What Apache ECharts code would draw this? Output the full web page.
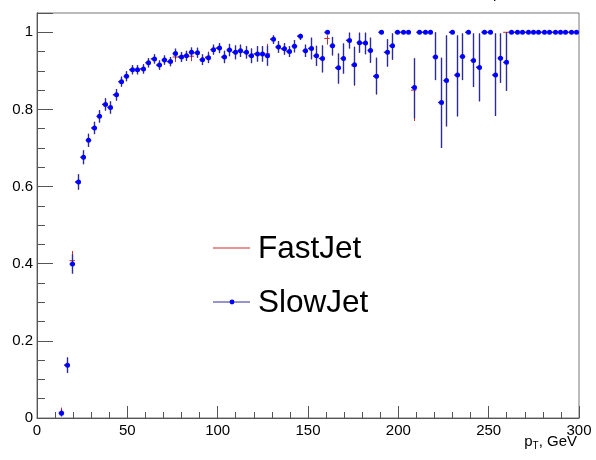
<!DOCTYPE html>
<html>
<head>
<meta charset="utf-8">
<script src="https://cdn.jsdelivr.net/npm/echarts@6/dist/echarts.min.js"></script>
<style>
html,body{margin:0;padding:0;background:#fff;}
#chart{width:596px;height:460px;}
</style>
</head>
<body>
<div id="chart"></div>
<script>
// pT bin centres (GeV), 3 GeV bins
const ptBins = [13.5,16.5,19.5,22.5,25.5,28.5,31.5,34.5,37.5,40.5,43.5,46.5,49.5,52.5,55.5,58.5,61.5,64.5,67.5,70.5,
73.5,76.5,79.5,82.5,85.5,88.5,91.5,94.5,97.5,100.5,103.5,106.5,109.5,112.5,115.5,118.5,121.5,124.5,127.5,130.5,
133.5,136.5,139.5,142.5,145.5,148.5,151.5,154.5,157.5,160.5,163.5,166.5,169.5,172.5,175.5,178.5,181.5,184.5,187.5,190.5,
193.5,196.5,199.5,202.5,205.5,208.5,211.5,214.5,217.5,220.5,223.5,226.5,229.5,232.5,235.5,238.5,241.5,244.5,247.5,250.5,
253.5,256.5,259.5,262.5,265.5,268.5,271.5,274.5,277.5,280.5,283.5,286.5,289.5,292.5,295.5,298.5];

const slowVals = [0.012,0.137,0.399,0.612,0.676,0.720,0.752,0.782,0.813,0.805,0.838,0.872,0.886,0.903,0.903,0.905,0.921,0.931,0.915,0.928,
0.924,0.945,0.936,0.939,0.948,0.947,0.929,0.934,0.955,0.959,0.936,0.954,0.948,0.952,0.948,0.939,0.944,0.944,0.939,0.982,
0.962,0.957,0.950,0.964,0.990,0.952,0.958,0.939,0.932,1.0,0.965,0.908,0.932,0.979,0.916,0.973,0.972,0.953,0.886,1.0,
0.948,0.965,1.0,1.0,1.0,0.857,1.0,1.0,1.0,0.936,0.818,0.875,1.0,0.889,0.937,1.0,0.927,0.909,1.0,1.0,
0.889,0.933,0.922,1.0,1.0,1.0,1.0,1.0,1.0,1.0,1.0,1.0,1.0,1.0,1.0,1.0];
const slowErrLo = [0.008,0.02,0.025,0.02,0.018,0.017,0.016,0.016,0.016,0.016,0.015,0.013,0.013,0.012,0.012,0.012,0.012,0.012,0.012,0.012,
0.012,0.013,0.013,0.013,0.013,0.013,0.014,0.014,0.013,0.013,0.016,0.016,0.018,0.016,0.016,0.019,0.02,0.02,0.026,0.012,
0.015,0.015,0.014,0.016,0.01,0.016,0.028,0.026,0.036,0,0.025,0.041,0.039,0.021,0.053,0.026,0.029,0.032,0.047,0,
0.037,0.036,0,0,0,0.08,0,0,0,0.06,0.118,0.119,0,0.107,0.061,0,0.069,0.088,0,0,
0.106,0.064,0.074,0,0,0,0,0,0,0,0,0,0,0,0,0];
const slowErrHi = [0.01,0.02,0.025,0.02,0.018,0.017,0.016,0.016,0.016,0.016,0.015,0.013,0.013,0.012,0.012,0.012,0.012,0.012,0.012,0.012,
0.012,0.013,0.013,0.013,0.013,0.013,0.014,0.014,0.013,0.013,0.016,0.016,0.018,0.016,0.016,0.019,0.02,0.02,0.026,0.01,
0.015,0.015,0.014,0.016,0.006,0.016,0.028,0.026,0.034,0,0.023,0.037,0.039,0.02,0.046,0.026,0.027,0.033,0.048,0,
0.034,0.032,0,0,0,0.076,0,0,0,0.064,0.116,0.117,0,0.103,0.06,0,0.07,0.088,0,0,
0.108,0.064,0.078,0,0,0,0,0,0,0,0,0,0,0,0,0];

const fastVals = [0.015,0.137,0.408,0.612,0.676,0.720,0.752,0.782,0.813,0.805,0.838,0.872,0.886,0.903,0.903,0.905,0.921,0.931,0.915,0.928,
0.924,0.936,0.936,0.939,0.938,0.947,0.929,0.936,0.955,0.959,0.936,0.954,0.948,0.952,0.948,0.939,0.944,0.944,0.944,0.982,
0.962,0.957,0.950,0.964,0.990,0.952,0.958,0.939,0.932,0.984,0.965,0.908,0.932,0.979,0.913,0.973,0.972,0.953,0.886,1.0,
0.948,0.965,1.0,1.0,1.0,0.850,1.0,1.0,1.0,0.936,0.818,0.875,1.0,0.889,0.937,1.0,0.927,0.909,1.0,1.0,
0.889,0.933,1.0,1.0,1.0,1.0,1.0,1.0,1.0,1.0,1.0,1.0,1.0,1.0,1.0,1.0];
const fastErrLo = [0.01,0.02,0.025,0.02,0.018,0.017,0.016,0.016,0.016,0.016,0.015,0.013,0.013,0.012,0.012,0.012,0.012,0.012,0.012,0.012,
0.012,0.013,0.013,0.013,0.013,0.013,0.014,0.014,0.013,0.013,0.016,0.016,0.018,0.016,0.016,0.019,0.02,0.02,0.026,0.012,
0.015,0.015,0.014,0.016,0.01,0.016,0.028,0.026,0.036,0.016,0.025,0.041,0.039,0.021,0.052,0.026,0.029,0.032,0.047,0,
0.037,0.036,0,0,0,0.08,0,0,0,0.06,0.118,0.119,0,0.107,0.061,0,0.069,0.088,0,0,
0.106,0.064,0.08,0,0,0,0,0,0,0,0,0,0,0,0,0];
const fastErrHi = [0.012,0.02,0.025,0.02,0.018,0.017,0.016,0.016,0.016,0.016,0.015,0.013,0.013,0.012,0.012,0.012,0.012,0.012,0.012,0.012,
0.012,0.013,0.013,0.013,0.013,0.013,0.014,0.014,0.013,0.013,0.016,0.016,0.018,0.016,0.016,0.019,0.02,0.02,0.026,0.01,
0.015,0.015,0.014,0.016,0.006,0.016,0.028,0.026,0.034,0.008,0.023,0.037,0.039,0.02,0.05,0.026,0.027,0.033,0.048,0,
0.034,0.032,0,0,0,0.08,0,0,0,0.064,0.116,0.117,0,0.103,0.06,0,0.07,0.088,0,0,
0.108,0.064,0,0,0,0,0,0,0,0,0,0,0,0,0,0];

const yTickLabels = ['0','0.2','0.4','0.6','0.8','1'];
const xTickLabels = ['0','50','100','150','200','250','300'];

const binHalf = 1.5;
const FONT = '"Liberation Sans", Arial, Helvetica, sans-serif';

function makeData(vals, lo, hi) {
  return ptBins.map((x, i) => [x, vals[i], lo[i], hi[i]]);
}

function makeRender(lineColor, withDot, lw) {
  return function (params, api) {
    const x = api.value(0), y = api.value(1), lo = api.value(2), hi = api.value(3);
    const p = api.coord([x, y]);
    const pl = api.coord([x, y - lo]);
    const ph = api.coord([x, y + hi]);
    const pa = api.coord([x - binHalf, y]);
    const pb = api.coord([x + binHalf, y]);
    const cx = Math.round(p[0]) + 0.5;
    const children = [];
    if (lo > 0 || hi > 0) {
      children.push({type: 'line', shape: {x1: cx, y1: ph[1], x2: cx, y2: pl[1]},
        style: {stroke: lineColor, lineWidth: lw}});
    }
    children.push({type: 'line', shape: {x1: pa[0], y1: p[1], x2: pb[0], y2: p[1]},
      style: {stroke: lineColor, lineWidth: lw}});
    if (withDot) {
      children.push({type: 'circle', shape: {cx: cx, cy: p[1], r: 2.5},
        style: {fill: '#0000ff'}});
    }
    return {type: 'group', children: children};
  };
}

const chart = echarts.init(document.getElementById('chart'), null, {renderer: 'canvas'});
const axisCol = '#555';
chart.setOption({
  animation: false,
  backgroundColor: '#fff',
  grid: {left: 37, top: 13, right: 17, bottom: 42, show: true, borderColor: '#777', borderWidth: 1, backgroundColor: 'transparent'},
  xAxis: {
    type: 'value', min: 0, max: 300, interval: 50,
    axisLine: {show: true, onZero: false, lineStyle: {color: axisCol, width: 1}},
    axisTick: {show: true, inside: true, length: 12, lineStyle: {color: axisCol}},
    minorTick: {show: true, splitNumber: 5, length: 6, lineStyle: {color: axisCol}},
    splitLine: {show: false},
    axisLabel: {margin: 5, fontSize: 15, color: '#000', fontFamily: FONT,
      formatter: v => { const s = String(Math.round(v)); return xTickLabels.indexOf(s) >= 0 ? s : ''; }}
  },
  yAxis: [
    {
      type: 'value', min: 0, max: 1.05, interval: 0.05, position: 'left',
      axisLine: {show: true, onZero: false, lineStyle: {color: axisCol}},
      axisTick: {show: true, inside: true, length: 8, lineStyle: {color: axisCol}},
      axisLabel: {show: false},
      splitLine: {show: false}
    },
    {
      type: 'value', min: 0, max: 1.05, interval: 0.2, position: 'left', offset: 0,
      axisLine: {show: true, onZero: false, lineStyle: {color: axisCol}},
      axisTick: {show: true, inside: true, length: 16, lineStyle: {color: axisCol}},
      splitLine: {show: false},
      axisLabel: {margin: 4, fontSize: 15, color: '#000', fontFamily: FONT,
        formatter: v => { const s = String(Math.round(v * 10) / 10); return (yTickLabels.indexOf(s) >= 0 && Math.abs(v * 5 - Math.round(v * 5)) < 1e-6) ? s : ''; }}
    }
  ],
  series: [
    {name: 'FastJet', type: 'custom', yAxisIndex: 1, renderItem: makeRender('#d42a2a', false, 1),
      data: makeData(fastVals, fastErrLo, fastErrHi), encode: {x: 0, y: 1}, z: 2},
    {name: 'SlowJet', type: 'custom', yAxisIndex: 1, renderItem: makeRender('#2c2c94', true, 1.4),
      data: makeData(slowVals, slowErrLo, slowErrHi), encode: {x: 0, y: 1}, z: 3}
  ],
  graphic: [
    {type: 'line', shape: {x1: 213, y1: 248, x2: 250, y2: 248}, style: {stroke: '#d42a2a', lineWidth: 1}},
    {type: 'text', x: 258, y: 249, style: {text: 'FastJet', fontSize: 31.5, fontFamily: FONT, fill: '#000', verticalAlign: 'middle', align: 'left'}},
    {type: 'line', shape: {x1: 213, y1: 302, x2: 250, y2: 302}, style: {stroke: '#2c2c94', lineWidth: 1}},
    {type: 'circle', shape: {cx: 232, cy: 302, r: 2.4}, style: {fill: '#0000ff'}},
    {type: 'text', x: 258, y: 303, style: {text: 'SlowJet', fontSize: 31.5, fontFamily: FONT, fill: '#000', verticalAlign: 'middle', align: 'left'}},
    {type: 'text', x: 577, y: 451, style: {
      text: '{a|p}{b|T}{a|, GeV}', align: 'right', verticalAlign: 'bottom',
      rich: {
        a: {fontSize: 15, fontFamily: FONT, fill: '#000'},
        b: {fontSize: 10, fontFamily: FONT, fill: '#000', padding: [8, 0, 0, 0]}
      }}},
    {type: 'text', x: 493, y: -14, style: {text: 'p', fontSize: 15, fontFamily: FONT, fill: '#000', verticalAlign: 'top'}}
  ]
});
</script>
</body>
</html>
